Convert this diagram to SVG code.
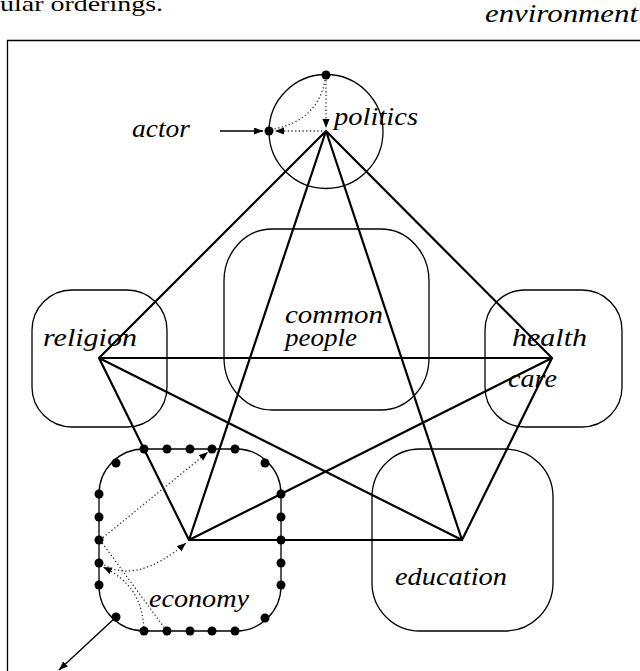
<svg xmlns="http://www.w3.org/2000/svg" width="640" height="671" viewBox="0 0 640 671">
<defs>
<style>
.box{fill:none;stroke:#000;stroke-width:1.3}
.edge{fill:none;stroke:#000;stroke-width:2.2;stroke-linecap:round}
.dot{fill:#000}
.dotted{fill:none;stroke:#333;stroke-width:1.3;stroke-dasharray:1.3 2.4}
.solid{fill:none;stroke:#000;stroke-width:1.4}
.lbl{font-family:"Liberation Serif",serif;font-style:italic;font-size:26px;fill:#000}
.plain{font-family:"Liberation Serif",serif;font-size:21px;fill:#000}
</style>
<marker id="ah" markerUnits="userSpaceOnUse" markerWidth="10" markerHeight="8" refX="9" refY="3.5" orient="auto">
<path d="M0,0 L9,3.5 L0,7 z" fill="#000"/>
</marker>
</defs>
<rect width="640" height="671" fill="#fff"/>
<text class="plain" x="0" y="11" textLength="163" lengthAdjust="spacingAndGlyphs">ular orderings.</text>
<g id="environment">
<path class="box" d="M7.5,680 V40.5 H650"/>
<text class="lbl" x="485" y="22" textLength="153" lengthAdjust="spacingAndGlyphs">environment</text>
</g>
<g id="politics">
<circle class="box" cx="326" cy="131.5" r="57"/>
<circle class="dot" cx="326" cy="75" r="4.5"/>
<circle class="dot" cx="269" cy="131" r="4.5"/>
<text class="lbl" x="334" y="125" textLength="84" lengthAdjust="spacingAndGlyphs">politics</text>
</g>
<g id="actor">
<text class="lbl" x="132" y="137" textLength="58" lengthAdjust="spacingAndGlyphs">actor</text>
</g>
<g id="common-people">
<rect class="box" x="224" y="229" width="205" height="181" rx="48" ry="52"/>
<text class="lbl" x="285" y="323" textLength="98" lengthAdjust="spacingAndGlyphs">common</text>
<text class="lbl" x="285" y="346" textLength="72" lengthAdjust="spacingAndGlyphs">people</text>
</g>
<g id="religion">
<rect class="box" x="32" y="290" width="135" height="137" rx="40"/>
<text class="lbl" x="43" y="346" textLength="94" lengthAdjust="spacingAndGlyphs">religion</text>
</g>
<g id="health-care">
<rect class="box" x="485" y="290" width="137" height="137" rx="40"/>
<text class="lbl" x="512" y="346" textLength="75" lengthAdjust="spacingAndGlyphs">health</text>
<text class="lbl" x="508" y="387" textLength="49" lengthAdjust="spacingAndGlyphs">care</text>
</g>
<g id="education">
<rect class="box" x="372" y="449" width="181" height="182" rx="48"/>
<text class="lbl" x="395" y="585" textLength="112" lengthAdjust="spacingAndGlyphs">education</text>
</g>
<g id="economy">
<rect class="box" x="99" y="449" width="182" height="182" rx="45"/>
<text class="lbl" x="149" y="607" textLength="100" lengthAdjust="spacingAndGlyphs">economy</text>
</g>
<g id="connectors">
<path class="edge" d="M326,131 L99,358 M326,131 L552,358 M326,131 L189,540 M326,131 L462,540 M99,358 L552,358 M99,358 L462,540 M552,358 L189,540 M189,540 L462,540 M99,358 L189,540 M552,358 L462,540"/>
<path class="solid" d="M220,131 L263,131" marker-end="url(#ah)"/>
<path class="dotted" d="M326,80 L326,128" marker-end="url(#ah)"/>
<path class="dotted" d="M326,131 L275,131" marker-end="url(#ah)"/>
<path class="dotted" d="M325,80 Q318,120 274,129"/>
<path class="dotted" d="M100,540 L208,452" marker-end="url(#ah)"/>
<path class="dotted" d="M101,563 Q135,586 186,543" marker-end="url(#ah)"/>
<path class="dotted" d="M100,540 L166,630"/>
<path class="dotted" d="M144,631 C143,600 130,580 103,567" marker-end="url(#ah)"/>
<path class="solid" d="M116,617 L59,670" marker-end="url(#ah)"/>
</g>
<g id="economy-dots" class="dot">
<circle cx="144" cy="449" r="4.5"/><circle cx="167" cy="449" r="4.5"/><circle cx="190" cy="449" r="4.5"/><circle cx="212" cy="449" r="4.5"/><circle cx="235" cy="449" r="4.5"/>
<circle cx="144" cy="631" r="4.5"/><circle cx="167" cy="631" r="4.5"/><circle cx="190" cy="631" r="4.5"/><circle cx="212" cy="631" r="4.5"/><circle cx="235" cy="631" r="4.5"/>
<circle cx="99" cy="494" r="4.5"/><circle cx="99" cy="517" r="4.5"/><circle cx="99" cy="540" r="4.5"/><circle cx="99" cy="563" r="4.5"/><circle cx="99" cy="585" r="4.5"/>
<circle cx="281" cy="494" r="4.5"/><circle cx="281" cy="517" r="4.5"/><circle cx="281" cy="540" r="4.5"/><circle cx="281" cy="563" r="4.5"/><circle cx="281" cy="585" r="4.5"/>
<circle cx="116" cy="463" r="4.5"/><circle cx="265" cy="463" r="4.5"/><circle cx="116" cy="617" r="4.5"/><circle cx="265" cy="618" r="4.5"/>
</g>
</svg>
